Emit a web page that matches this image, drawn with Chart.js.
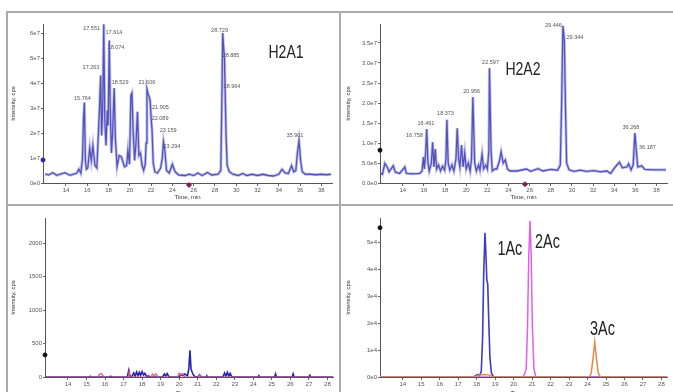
<!DOCTYPE html>
<html>
<head>
<meta charset="utf-8">
<script src="https://cdn.jsdelivr.net/npm/chart.js@4.4.0/dist/chart.umd.min.js"></script>
<style>
html, body { margin: 0; padding: 0; background: #fff; width: 673px; height: 392px; overflow: hidden; position: relative; }
.pane { position: absolute; }
.rule { position: absolute; background: #ababab; }
</style>
</head>
<body>
<div class="rule" style="left:6px;top:11px;width:667px;height:2px"></div>
<div class="rule" style="left:6px;top:11px;width:2px;height:381px"></div>
<div class="rule" style="left:339px;top:11px;width:2px;height:381px"></div>
<div class="rule" style="left:6px;top:204px;width:667px;height:2px"></div>

<canvas class="pane" id="c1" width="330" height="190" style="left:8px;top:14px"></canvas>
<canvas class="pane" id="c2" width="330" height="190" style="left:343px;top:14px"></canvas>
<canvas class="pane" id="c3" width="330" height="200" style="left:8px;top:208px"></canvas>
<canvas class="pane" id="c4" width="330" height="200" style="left:343px;top:208px"></canvas>

<script>
// ---- H2A1 (top left), intensity in 1e7 cps ----
const h2a1Trace = [
  [12.04,0.36],[12.35,0.32],[12.76,0.41],[13.13,0.31],[13.9,0.41],[14.37,0.31],[15.0,0.39],[15.21,0.55],
  [15.4,0.39],[15.55,1.0],[15.65,2.6],[15.73,3.22],[15.82,0.9],[15.92,0.55],[16.05,0.6],[16.23,1.4],
  [16.38,0.9],[16.53,1.5],[16.72,0.7],[16.9,0.6],[17.05,2.0],[17.15,3.0],[17.26,4.3],[17.35,1.9],
  [17.45,3.0],[17.55,6.35],[17.65,2.5],[17.76,1.5],[17.88,2.9],[17.96,2.3],[18.07,5.7],[18.16,3.0],
  [18.27,1.2],[18.38,2.0],[18.53,3.8],[18.64,1.8],[18.8,0.65],[19.0,1.1],[19.2,1.05],[19.5,0.65],
  [19.7,0.7],[19.82,1.3],[19.97,0.75],[20.1,3.5],[20.2,3.6],[20.32,2.0],[20.45,0.9],[20.58,1.6],
  [20.72,2.85],[20.85,1.1],[21.0,1.2],[21.15,0.7],[21.3,0.5],[21.45,0.75],[21.53,1.6],[21.61,3.75],
  [21.72,3.55],[21.82,3.45],[21.91,3.3],[22.0,2.6],[22.09,2.1],[22.2,0.8],[22.35,0.45],[22.6,0.4],
  [22.9,0.6],[23.05,1.0],[23.16,1.65],[23.29,1.3],[23.45,0.5],[23.7,0.4],[24.0,0.75],[24.25,0.45],
  [24.6,0.32],[25.2,0.3],[25.6,0.35],[26.0,0.3],[26.4,0.4],[26.8,0.3],[27.3,0.42],[27.7,0.32],
  [28.3,0.35],[28.55,0.5],[28.64,3.0],[28.73,6.0],[28.8,5.5],[28.89,5.05],[28.96,3.65],[29.05,1.8],
  [29.15,0.7],[29.35,0.45],[29.7,0.35],[30.2,0.3],[30.6,0.38],[31.0,0.3],[31.5,0.35],[32.0,0.3],
  [32.5,0.35],[33.0,0.3],[33.5,0.28],[34.0,0.35],[34.3,0.55],[34.6,0.4],[34.9,0.38],[35.2,0.7],
  [35.4,0.45],[35.6,0.5],[35.75,1.2],[35.9,1.7],[36.05,0.9],[36.2,0.45],[36.5,0.35],[37.0,0.35],
  [37.5,0.33],[38.0,0.35],[38.5,0.33],[38.9,0.35]
];
const h2a1PeakNames = ['15.764','17.263','17.551','17.614','18.074','18.529','21.606','21.905','22.089','23.159','23.294','28.729','28.885','28.964','35.901'];
const h2a1PeakAt = [[15.55,3.4],[16.35,4.64],[16.41,6.2],[18.51,6.04],[18.7,5.44],[19.08,4.04],[21.6,4.04],[22.88,3.04],[22.84,2.6],[23.6,2.12],[23.96,1.48],[28.43,6.12],[29.51,5.12],[29.6,3.88],[35.52,1.92]];
const h2a1Title = ['H2A1', 34.68, 5.2];
const h2a1YTicks = [0, 1, 2, 3, 4, 5, 6];
const h2a1YLabels = ['0e0', '1e7', '2e7', '3e7', '4e7', '5e7', '6e7'];
const h2a1Cursor = [[11.84, 0.92]];
const h2a1Marker = [[25.56, -0.08]];

// ---- H2A2 (top right), intensity in 1e6 cps ----
const h2a2Trace = [
  [11.92,2.4],[12.07,2.2],[12.3,4.9],[12.52,4.0],[12.7,2.8],[13.09,4.3],[13.3,2.7],[13.7,2.4],
  [14.19,4.0],[14.34,2.4],[15.0,2.3],[15.6,2.4],[15.82,3.0],[15.95,6.5],[16.04,3.5],[16.17,8.0],
  [16.26,13.5],[16.38,5.0],[16.5,3.0],[16.7,5.0],[16.82,10.2],[16.95,4.0],[17.07,8.5],[17.2,3.5],
  [17.38,4.5],[17.57,3.0],[17.76,4.2],[17.96,3.2],[18.08,6.0],[18.17,15.8],[18.29,5.0],[18.45,3.2],
  [18.65,4.5],[18.83,3.0],[19.03,6.0],[19.15,13.7],[19.28,6.0],[19.4,4.0],[19.56,9.5],[19.7,4.0],
  [19.86,7.5],[20.0,3.5],[20.2,5.0],[20.37,3.0],[20.5,6.0],[20.63,21.5],[20.8,5.0],[20.96,3.0],
  [21.17,4.5],[21.3,3.2],[21.5,7.2],[21.65,3.5],[21.86,4.5],[22.0,3.5],[22.14,8.0],[22.2,28.7],
  [22.35,8.0],[22.47,3.0],[22.7,3.5],[22.9,3.5],[23.14,5.5],[23.3,7.8],[23.5,5.0],[23.7,5.8],
  [23.9,3.5],[24.15,3.0],[24.8,3.0],[25.7,3.5],[26.1,2.9],[26.8,3.6],[27.25,3.0],[28.0,3.4],
  [28.65,3.2],[28.9,4.5],[29.03,20.0],[29.15,39.3],[29.28,36.0],[29.4,18.0],[29.5,5.0],[29.73,3.3],
  [30.2,2.9],[30.8,3.2],[31.4,2.9],[32.06,3.1],[32.7,2.8],[33.3,3.0],[33.67,2.4],[34.1,4.0],
  [34.5,5.2],[34.77,3.8],[35.2,4.0],[35.36,4.8],[35.6,3.3],[35.8,4.5],[35.96,12.5],[36.1,8.0],
  [36.23,4.0],[36.6,4.3],[36.9,3.4],[37.7,3.3],[38.9,3.3]
];
const h2a2PeakNames = ['16.491','16.758','18.373','20.956','22.597','29.446','29.344','36.268','36.187'];
const h2a2PeakAt = [[16.19,15.0],[15.1,12.0],[18.04,17.5],[20.52,23.0],[22.3,30.25],[28.25,39.4],[30.29,36.5],[35.59,14.0],[37.15,9.0]];
const h2a2Title = ['H2A2', 25.37, 28.25];
const h2a2YTicks = [0, 5, 10, 15, 20, 25, 30, 35];
const h2a2YLabels = ['0.0e0', '5.0e6', '1.0e7', '1.5e7', '2.0e7', '2.5e7', '3.0e7', '3.5e7'];
const h2a2Cursor = [[11.84, 8.2]];
const h2a2Marker = [[25.56, -0.3]];

const topXTicks = [14, 16, 18, 20, 22, 24, 26, 28, 30, 32, 34, 36, 38];

// ---- bottom left, intensity in cps ----
const blBlue = [
  [12.8,0],[15.15,0],[15.2,12],[15.25,0],[16.25,0],[16.3,10],[16.35,0],[17.2,0],[17.28,100],[17.35,5],
  [17.45,10],[17.55,60],[17.62,10],[17.7,75],[17.78,20],[17.85,70],[17.92,25],[18.0,80],[18.08,30],
  [18.15,55],[18.25,5],[18.35,15],[18.45,0],[19.1,0],[19.2,45],[19.27,15],[19.35,50],[19.45,0],
  [20.0,0],[20.1,40],[20.2,20],[20.3,45],[20.45,20],[20.52,120],[20.58,400],[20.64,120],[20.7,70],
  [20.78,25],[20.85,5],[21.0,0],[21.1,30],[21.2,0],[21.45,0],[21.5,15],[21.55,0],[22.35,0],
  [22.45,60],[22.52,10],[22.6,70],[22.68,10],[22.75,55],[22.85,0],[24.25,0],[24.3,20],[24.35,0],
  [25.15,0],[25.2,45],[25.25,0],[26.1,0],[26.15,45],[26.2,0],[27.0,0],[27.05,25],[27.1,0],[28.3,0]
];
const blPink = [
  [12.8,0],[15.6,0],[15.7,40],[15.8,50],[15.9,15],[16.0,0],[17.25,0],[17.3,80],[17.35,0],[18.5,0],
  [18.55,45],[18.65,20],[18.75,50],[18.85,0],[19.9,0],[20.0,55],[20.1,30],[20.2,50],[20.3,0],
  [21.05,0],[21.1,40],[21.2,0],[28.3,0]
];
const blYTicks = [0, 500, 1000, 1500, 2000];
const blYLabels = ['0', '500', '1000', '1500', '2000'];
const blCursor = [[12.76, 330]];

// ---- bottom right, intensity in cps ----
const ac1Trace = [
  [12.77,0],[17.85,0],[17.95,500],[18.05,900],[18.15,400],[18.25,2000],[18.32,14000],[18.38,38000],
  [18.45,53500],[18.5,46000],[18.55,36000],[18.6,34500],[18.65,22000],[18.72,7000],[18.8,1500],
  [18.9,200],[19.0,0],[28.3,0]
];
const ac2Trace = [
  [12.77,0],[20.5,0],[20.6,1200],[20.68,3000],[20.75,18000],[20.82,45000],[20.89,58000],[20.95,45000],
  [21.02,18000],[21.1,3000],[21.2,0],[28.3,0]
];
const ac3Trace = [
  [12.77,0],[17.9,0],[18.1,700],[18.4,900],[18.7,700],[18.9,0],[24.1,0],[24.2,1500],[24.3,7000],
  [24.39,13000],[24.48,7000],[24.58,1500],[24.7,0],[28.3,0]
];
const acNames = ['1Ac', '2Ac', '3Ac'];
const acAt = [[19.8, 47200], [21.83, 50000], [24.81, 17700]];
const brYTicks = [0, 10000, 20000, 30000, 40000, 50000];
const brYLabels = ['0e0', '1e4', '2e4', '3e4', '4e4', '5e4'];
const brCursor = [[12.77, 55400]];

const bottomXTicks = [14, 15, 16, 17, 18, 19, 20, 21, 22, 23, 24, 25, 26, 27, 28];

Chart.defaults.font.family = "'Liberation Sans', Arial, sans-serif";
Chart.defaults.color = '#444';

function pts(arr) {
  return arr.map(p => ({ x: p[0], y: p[1] }));
}

// draws texts anchored at data coordinates (squeeze < 1 gives a condensed look)
function textPlugin(items) {
  return {
    id: 'peakText',
    afterDatasetsDraw(chart) {
      const ctx = chart.ctx;
      const xs = chart.scales.x, ys = chart.scales.y;
      items.forEach(it => {
        const px = xs.getPixelForValue(it.x), py = ys.getPixelForValue(it.y);
        const sq = it.squeeze || 1;
        ctx.save();
        ctx.translate(px, py);
        ctx.scale(sq, 1);
        ctx.font = it.font;
        ctx.fillStyle = it.color;
        ctx.textAlign = 'center';
        ctx.textBaseline = 'middle';
        ctx.fillText(it.text, 0, 0);
        ctx.restore();
      });
    }
  };
}

function peakItems(names, at) {
  return names.map((n, i) => ({ text: n, x: at[i][0], y: at[i][1], font: '5.5px Liberation Sans', color: '#555' }));
}

function makeChart(id, o) {
  const tickFont = { size: 6 };
  return new Chart(document.getElementById(id), {
    type: 'line',
    data: { datasets: o.datasets },
    plugins: [textPlugin(o.texts)],
    options: {
      responsive: false,
      animation: false,
      layout: { padding: { top: 10, right: o.padRight, left: 0, bottom: 0 } },
      elements: { point: { radius: 0 }, line: { tension: 0 } },
      plugins: { legend: { display: false }, tooltip: { enabled: false } },
      scales: {
        x: {
          type: 'linear',
          min: o.xMin, max: o.xMax,
          afterBuildTicks: s => { s.ticks = o.xTicks.map(v => ({ value: v })); },
          afterFit: s => { s.height = o.xHeight; },
          ticks: { font: tickFont, autoSkip: false, maxRotation: 0, padding: 1, color: '#555' },
          grid: { drawOnChartArea: false, tickLength: 3, color: '#666' },
          border: { color: '#555', width: 1 },
          title: { display: true, text: 'Time, min', font: { size: 6 }, color: '#333', padding: { top: 0, bottom: o.xTitlePad } }
        },
        y: {
          type: 'linear',
          min: o.yMin, max: o.yMax,
          afterBuildTicks: s => { s.ticks = o.yTicks.map(v => ({ value: v })); },
          afterFit: s => { s.width = o.yWidth; },
          ticks: { font: tickFont, padding: 1, color: '#555', callback: (v, i) => o.yLabels[i] },
          grid: { drawOnChartArea: false, tickLength: 2, color: '#666' },
          border: { color: '#555', width: 1 },
          title: { display: true, text: 'Intensity, cps', font: { size: 6 }, color: '#333', padding: { top: 1.4, bottom: 0 } }
        }
      }
    }
  });
}

function trace(arr, color, width) {
  return { data: pts(arr), borderColor: color, borderWidth: width || 1.4, fill: false, pointRadius: 0 };
}
function dot(arr, color, style, r) {
  return { data: pts(arr), showLine: false, pointRadius: r || 2, pointStyle: style || 'circle',
    pointBackgroundColor: color, pointBorderColor: color, borderColor: color, clip: false };
}

const halo = 'rgba(120,120,215,0.45)';

makeChart('c1', {
  datasets: [trace(h2a1Trace, halo, 3), trace(h2a1Trace, '#3434a8', 1.3), dot(h2a1Cursor, '#2b2b90'), dot(h2a1Marker, '#7a2050', 'rectRot', 2.5)],
  texts: peakItems(h2a1PeakNames, h2a1PeakAt).concat([{ text: h2a1Title[0], x: h2a1Title[1], y: h2a1Title[2], font: '18px Liberation Sans', color: '#222', squeeze: 0.78 }]),
  xMin: 11.84, xMax: 39.0, xTicks: topXTicks, xHeight: 21, xTitlePad: 3.4,
  yMin: 0, yMax: 6.36, yTicks: h2a1YTicks, yLabels: h2a1YLabels, yWidth: 35, padRight: 6
});

makeChart('c2', {
  datasets: [trace(h2a2Trace, halo, 3), trace(h2a2Trace, '#3434a8', 1.3), dot(h2a2Cursor, '#111'), dot(h2a2Marker, '#7a2050', 'rectRot', 2.5)],
  texts: peakItems(h2a2PeakNames, h2a2PeakAt).concat([{ text: h2a2Title[0], x: h2a2Title[1], y: h2a2Title[2], font: '18px Liberation Sans', color: '#222', squeeze: 0.78 }]),
  xMin: 11.84, xMax: 39.0, xTicks: topXTicks, xHeight: 21, xTitlePad: 3.4,
  yMin: 0, yMax: 39.75, yTicks: h2a2YTicks, yLabels: h2a2YLabels, yWidth: 37, padRight: 6
});

makeChart('c3', {
  datasets: [trace(blPink, '#e0508a', 1.2), trace(blBlue, '#2424b0', 1.6), dot(blCursor, '#111')],
  texts: [],
  xMin: 12.76, xMax: 28.3, xTicks: bottomXTicks, xHeight: 31, xTitlePad: 11.4,
  yMin: 0, yMax: 2375, yTicks: blYTicks, yLabels: blYLabels, yWidth: 37, padRight: 5
});

makeChart('c4', {
  datasets: [trace(ac3Trace, '#e08a50', 1.5), trace(ac2Trace, '#e060e8', 1.5), trace(ac1Trace, '#3c3cc8', 1.6), dot(brCursor, '#111')],
  texts: acNames.map((n, i) => ({ text: n, x: acAt[i][0], y: acAt[i][1], font: '20px Liberation Sans', color: '#222', squeeze: 0.72 })),
  xMin: 12.77, xMax: 28.3, xTicks: bottomXTicks, xHeight: 31, xTitlePad: 11.4,
  yMin: 0, yMax: 59000, yTicks: brYTicks, yLabels: brYLabels, yWidth: 37, padRight: 6
});
</script>
</body>
</html>
